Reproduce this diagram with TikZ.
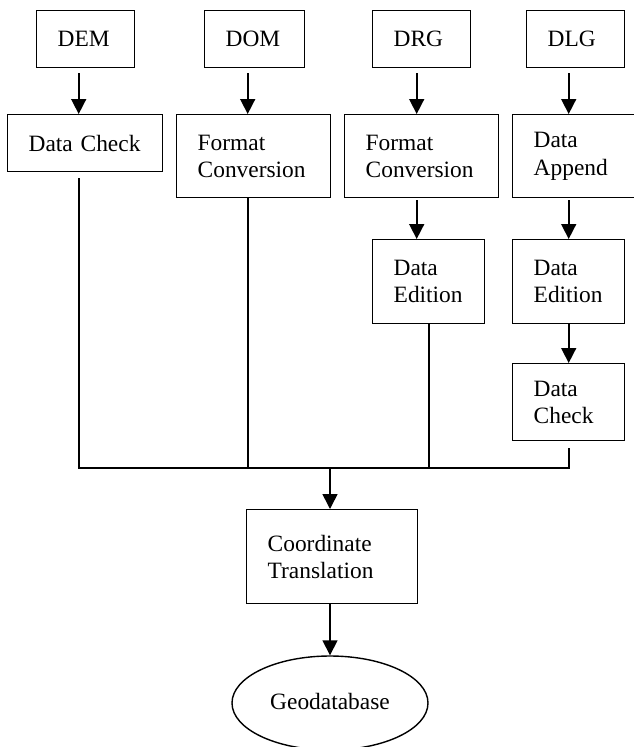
\documentclass[tikz,border=0pt]{standalone}
\usepackage{fontspec}
\setmainfont{Liberation Serif}
\usetikzlibrary{arrows.meta,shapes.geometric}
\begin{document}
\begin{tikzpicture}[x=1pt,y=-1pt,
  every node/.style={font=\fontsize{23.4}{27.4}\selectfont},
  box/.style={draw, line width=1.4pt, inner xsep=21pt, inner ysep=0pt, align=left, anchor=north west},
  ln/.style={line width=1.6pt},
  arr/.style={line width=1.6pt, -{Triangle[width=15pt,length=15pt]}}]
\useasboundingbox (0,0) rectangle (633,747);
% top row
\node[box, text width=56pt, minimum height=57pt] (DEM) at (36,10) {DEM};
\node[box, text width=58pt, minimum height=57pt] (DOM) at (204,10) {DOM};
\node[box, text width=56pt, minimum height=57pt] (DRG) at (372,10) {DRG};
\node[box, text width=56pt, minimum height=57pt] (DLG) at (526,10) {DLG};
% second row
\node[box, text width=113pt, minimum height=57pt] (DC1) at (7,114) {Data Check};
\node[box, text width=112pt, minimum height=83pt] (FC1) at (176,114) {Format\\Conversion};
\node[box, text width=112pt, minimum height=83pt] (FC2) at (344,114) {Format\\Conversion};
\node[box, text width=100pt, minimum height=83pt] (DA) at (512,114) {Data\\Append};
% third row
\node[box, text width=70pt, minimum height=84pt] (DE1) at (372,239) {Data\\Edition};
\node[box, text width=70pt, minimum height=84pt] (DE2) at (512,239) {Data\\Edition};
\node[box, text width=70pt, minimum height=77pt] (DC2) at (512,363) {Data\\Check};
% bottom
\node[box, text width=129pt, minimum height=94pt] (CT) at (246,509) {Coordinate\\Translation};
\node[ellipse, draw, line width=1.4pt, inner sep=0pt, minimum width=196pt, minimum height=94pt] (GEO) at (330,703) {\raisebox{4pt}{Geodatabase}};
\coordinate (bus) at (330,468);
% arrows from sources
\draw[arr, shorten <=5pt] ([xshift=-7pt]DEM.south) -- ([xshift=-7pt]DEM.south |- DC1.north);
\draw[arr, shorten <=5pt] ([xshift=-7pt]DOM.south) -- ([xshift=-7pt]DOM.south |- FC1.north);
\draw[arr, shorten <=5pt] ([xshift=-5pt]DRG.south) -- ([xshift=-5pt]DRG.south |- FC2.north);
\draw[arr, shorten <=5pt] ([xshift=-7pt]DLG.south) -- ([xshift=-7pt]DLG.south |- DA.north);
% chains
\draw[arr, shorten <=2pt] ([xshift=-5pt]FC2.south) -- ([xshift=-5pt]FC2.south |- DE1.north);
\draw[arr, shorten <=2pt] (DA.south -| DE2.north) -- (DE2.north);
\draw[arr] (DE2.south) -- (DC2.north);
% bus
\draw[ln, shorten <=6pt, shorten >=7pt] ([xshift=-6.5pt]DC1.south) |- (bus) -| (DC2.south);
\draw[ln] ([xshift=-6pt]FC1.south) -- ([xshift=-6pt]FC1.south |- bus);
\draw[ln] (DE1.south) -- (DE1.south |- bus);
\draw[arr] (bus) -- (bus |- CT.north);
\draw[arr] (CT.south -| GEO.north) -- (GEO.north);
\end{tikzpicture}
\end{document}
